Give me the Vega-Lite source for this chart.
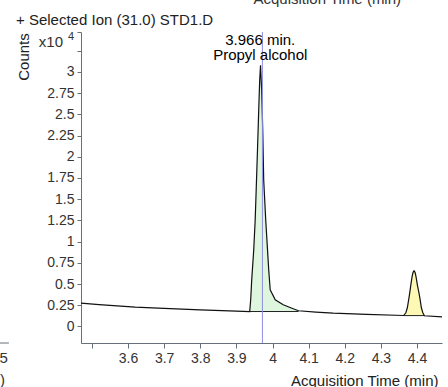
{
  "$schema": "https://vega.github.io/schema/vega-lite/v6.json",
  "autosize": {"type": "none"},
  "padding": {"left": 81, "top": 32, "right": 6, "bottom": 44},
  "width": 361,
  "height": 311,
  "background": "white",
  "title": {
    "text": "+ Selected Ion (31.0) STD1.D",
    "anchor": "start",
    "frame": "group",
    "dx": -65,
    "dy": 56,
    "offset": 8,
    "baseline": "alphabetic",
    "font": "Liberation Sans",
    "fontSize": 15,
    "fontWeight": "normal",
    "color": "#222222"
  },
  "config": {
    "view": {"stroke": null},
    "axis": {
      "labelFont": "Liberation Sans",
      "titleFont": "Liberation Sans",
      "labelFontSize": 14,
      "titleFontSize": 15,
      "titleFontWeight": "normal",
      "labelColor": "#333333",
      "titleColor": "#222222",
      "domainColor": "#66707a",
      "tickColor": "#66707a",
      "grid": false
    },
    "text": {"font": "Liberation Sans"}
  },
  "datasets": {
    "signal": [
      {"t": 3.47, "v": 0.275, "peak": "", "base": null},
      {"t": 3.52, "v": 0.258, "peak": "", "base": null},
      {"t": 3.57, "v": 0.243, "peak": "", "base": null},
      {"t": 3.62, "v": 0.228, "peak": "", "base": null},
      {"t": 3.70, "v": 0.212, "peak": "", "base": null},
      {"t": 3.80, "v": 0.196, "peak": "", "base": null},
      {"t": 3.90, "v": 0.181, "peak": "", "base": null},
      {"t": 3.9368, "v": 0.176, "peak": "Propyl alcohol", "base": 0.176},
      {"t": 3.9396, "v": 0.314, "peak": "Propyl alcohol", "base": 0.176},
      {"t": 3.9424, "v": 0.549, "peak": "Propyl alcohol", "base": 0.176},
      {"t": 3.948, "v": 0.9, "peak": "Propyl alcohol", "base": 0.176},
      {"t": 3.952, "v": 1.255, "peak": "Propyl alcohol", "base": 0.176},
      {"t": 3.9548, "v": 1.608, "peak": "Propyl alcohol", "base": 0.176},
      {"t": 3.9584, "v": 2.08, "peak": "Propyl alcohol", "base": 0.176},
      {"t": 3.9618, "v": 2.55, "peak": "Propyl alcohol", "base": 0.176},
      {"t": 3.9645, "v": 2.9, "peak": "Propyl alcohol", "base": 0.176},
      {"t": 3.9668, "v": 3.078, "peak": "Propyl alcohol", "base": 0.176},
      {"t": 3.970, "v": 2.785, "peak": "Propyl alcohol", "base": 0.176},
      {"t": 3.9729, "v": 2.314, "peak": "Propyl alcohol", "base": 0.176},
      {"t": 3.9756, "v": 1.726, "peak": "Propyl alcohol", "base": 0.176},
      {"t": 3.9812, "v": 1.255, "peak": "Propyl alcohol", "base": 0.176},
      {"t": 3.9845, "v": 1.02, "peak": "Propyl alcohol", "base": 0.176},
      {"t": 3.9895, "v": 0.667, "peak": "Propyl alcohol", "base": 0.176},
      {"t": 3.9936, "v": 0.432, "peak": "Propyl alcohol", "base": 0.176},
      {"t": 4.0075, "v": 0.314, "peak": "Propyl alcohol", "base": 0.176},
      {"t": 4.0296, "v": 0.255, "peak": "Propyl alcohol", "base": 0.176},
      {"t": 4.0573, "v": 0.208, "peak": "Propyl alcohol", "base": 0.176},
      {"t": 4.072, "v": 0.185, "peak": "Propyl alcohol", "base": 0.176},
      {"t": 4.12, "v": 0.17, "peak": "", "base": null},
      {"t": 4.168, "v": 0.157, "peak": "", "base": null},
      {"t": 4.26, "v": 0.142, "peak": "", "base": null},
      {"t": 4.3629, "v": 0.129, "peak": "Peak 2", "base": 0.128},
      {"t": 4.369, "v": 0.161, "peak": "Peak 2", "base": 0.128},
      {"t": 4.3731, "v": 0.22, "peak": "Peak 2", "base": 0.128},
      {"t": 4.3767, "v": 0.314, "peak": "Peak 2", "base": 0.128},
      {"t": 4.3795, "v": 0.39, "peak": "Peak 2", "base": 0.128},
      {"t": 4.3828, "v": 0.49, "peak": "Peak 2", "base": 0.128},
      {"t": 4.3861, "v": 0.585, "peak": "Peak 2", "base": 0.128},
      {"t": 4.3889, "v": 0.638, "peak": "Peak 2", "base": 0.128},
      {"t": 4.3917, "v": 0.655, "peak": "Peak 2", "base": 0.128},
      {"t": 4.3944, "v": 0.638, "peak": "Peak 2", "base": 0.128},
      {"t": 4.3972, "v": 0.585, "peak": "Peak 2", "base": 0.128},
      {"t": 4.4008, "v": 0.49, "peak": "Peak 2", "base": 0.128},
      {"t": 4.4055, "v": 0.39, "peak": "Peak 2", "base": 0.128},
      {"t": 4.4086, "v": 0.314, "peak": "Peak 2", "base": 0.128},
      {"t": 4.4119, "v": 0.22, "peak": "Peak 2", "base": 0.128},
      {"t": 4.416, "v": 0.161, "peak": "Peak 2", "base": 0.128},
      {"t": 4.4202, "v": 0.126, "peak": "Peak 2", "base": 0.128},
      {"t": 4.469, "v": 0.114, "peak": "", "base": null}
    ],
    "marker": [{"t": 3.972}],
    "annotation": [
      {"t": 3.966, "v": 3.381, "label": "3.966 min."},
      {"t": 3.966, "v": 3.196, "label": "Propyl alcohol"}
    ],
    "scaleNote": [
      {"t": 3.47, "v": 3.353, "label": "x10", "part": "base"},
      {"t": 3.47, "v": 3.412, "label": "4", "part": "exp"}
    ],
    "fragment": [
      {"t": 4.1515, "v": 3.854, "label": "Acquisition Time (min)"}
    ],
    "leftFragment": [
      {"t": 3.2679, "v": -0.368, "label": "4.5"},
      {"t": 3.2595, "v": -0.627, "label": "Acquisition Time (min)"}
    ],
    "neighborAxis": [
      {"t": 3.2, "t2": 3.2705, "v": -0.195}
    ]
  },
  "encoding": {
    "x": {
      "field": "t", "type": "quantitative",
      "scale": {"domain": [3.47, 4.469], "nice": false, "zero": false},
      "axis": {
        "values": [3.5, 3.6, 3.7, 3.8, 3.9, 4, 4.1, 4.2, 4.3, 4.4],
        "labelExpr": "datum.value < 3.55 ? '' : format(datum.value, '~g')",
        "tickSize": 5,
        "labelPadding": 3,
        "labelFlush": false,
        "labelOverlap": false,
        "title": "Acquisition Time (min)",
        "titleAnchor": "end",
        "titleAlign": "right",
        "titleX": 357,
        "titleY": 37,
        "titleBaseline": "middle"
      }
    },
    "y": {
      "field": "v", "type": "quantitative",
      "scale": {"domain": [-0.195, 3.47], "nice": false, "zero": false},
      "axis": {
        "values": [0, 0.25, 0.5, 0.75, 1, 1.25, 1.5, 1.75, 2, 2.25, 2.5, 2.75, 3, 3.25, 3.47],
        "labelExpr": "datum.value > 3.1 ? '' : format(datum.value, '~g')",
        "tickSize": 4,
        "labelPadding": 3,
        "labelFlush": false,
        "labelOverlap": false,
        "title": "Counts",
        "titleAngle": 270,
        "titleX": -58,
        "titleY": 24.5,
        "titleAlign": "center",
        "titleBaseline": "middle"
      }
    }
  },
  "layer": [
    {
      "data": {"name": "signal"},
      "transform": [{"filter": "datum.peak != ''"}],
      "mark": {"type": "area", "opacity": 1},
      "encoding": {
        "y2": {"field": "base"},
        "color": {
          "field": "peak", "type": "nominal",
          "scale": {"domain": ["Propyl alcohol", "Peak 2"], "range": ["#ddf6dd", "#fdf9b4"]},
          "legend": null
        },
        "detail": {"field": "peak"}
      }
    },
    {
      "data": {"name": "signal"},
      "transform": [{"filter": "datum.peak != ''"}],
      "mark": {"type": "rule", "color": "#222222", "strokeWidth": 1},
      "encoding": {
        "x": {"aggregate": "min", "field": "t", "type": "quantitative"},
        "x2": {"aggregate": "max", "field": "t"},
        "y": {"aggregate": "min", "field": "base", "type": "quantitative", "axis": {
          "values": [0, 0.25, 0.5, 0.75, 1, 1.25, 1.5, 1.75, 2, 2.25, 2.5, 2.75, 3, 3.25, 3.47],
          "labelExpr": "datum.value > 3.1 ? '' : format(datum.value, '~g')",
          "tickSize": 4,
          "labelPadding": 3,
          "labelFlush": false,
          "labelOverlap": false,
          "title": "Counts",
          "titleAngle": 270,
          "titleX": -58,
          "titleY": 24.5,
          "titleAlign": "center",
          "titleBaseline": "middle"
        }},
        "detail": {"field": "peak"}
      }
    },
    {
      "data": {"name": "signal"},
      "mark": {"type": "line", "color": "#111111", "strokeWidth": 1.2},
      "encoding": {}
    },
    {
      "data": {"name": "marker"},
      "mark": {"type": "rule", "color": "#8c8ce6", "strokeWidth": 1},
      "encoding": {
        "y": null
      }
    },
    {
      "data": {"name": "neighborAxis"},
      "mark": {"type": "rule", "color": "#66707a", "strokeWidth": 1},
      "encoding": {
        "x2": {"field": "t2"}
      }
    },
    {
      "data": {"name": "annotation"},
      "mark": {"type": "text", "fontSize": 15, "color": "#000000", "align": "center", "baseline": "middle"},
      "encoding": {
        "text": {"field": "label"}
      }
    },
    {
      "data": {"name": "scaleNote"},
      "transform": [{"filter": "datum.part == 'base'"}],
      "mark": {"type": "text", "fontSize": 15, "color": "#333333", "align": "right", "baseline": "middle", "dx": -18},
      "encoding": {
        "text": {"field": "label"}
      }
    },
    {
      "data": {"name": "scaleNote"},
      "transform": [{"filter": "datum.part == 'exp'"}],
      "mark": {"type": "text", "fontSize": 11, "color": "#333333", "align": "right", "baseline": "middle", "dx": -7},
      "encoding": {
        "text": {"field": "label"}
      }
    },
    {
      "data": {"name": "fragment"},
      "mark": {"type": "text", "fontSize": 15, "color": "#333333", "align": "center", "baseline": "middle"},
      "encoding": {
        "text": {"field": "label"}
      }
    },
    {
      "data": {"name": "leftFragment"},
      "mark": {"type": "text", "fontSize": 15, "color": "#333333", "align": "right", "baseline": "middle"},
      "encoding": {
        "text": {"field": "label"}
      }
    }
  ]
}
